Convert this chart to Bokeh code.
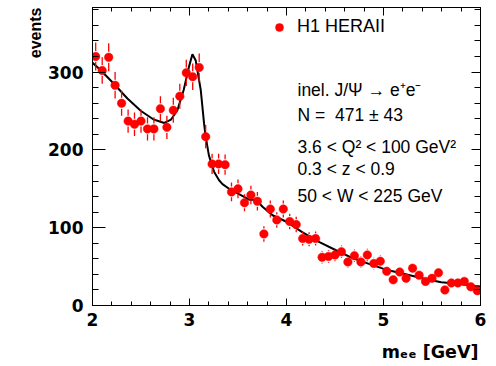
import numpy as np
from bokeh.plotting import figure
from bokeh.models import (LinearAxis, SingleIntervalTicker, Label, Legend, LegendItem,
                          Range1d, ColumnDataSource, CustomJSTickFormatter, Title)
from bokeh.embed import file_html
from bokeh.resources import INLINE

# ---- data ----
bin_x = [2.033, 2.100, 2.167, 2.233, 2.300, 2.367, 2.433, 2.500, 2.567, 2.633,
         2.700, 2.767, 2.833, 2.900, 2.967, 3.033, 3.100, 3.167, 3.233, 3.300,
         3.367, 3.433, 3.500, 3.567, 3.633, 3.700, 3.767, 3.833, 3.900, 3.967,
         4.033, 4.100, 4.167, 4.233, 4.300, 4.367, 4.433, 4.500, 4.567, 4.633,
         4.700, 4.767, 4.833, 4.900, 4.967, 5.033, 5.100, 5.167, 5.233, 5.300,
         5.367, 5.433, 5.500, 5.567, 5.633, 5.700, 5.767, 5.833, 5.900, 5.967]
counts = [320, 302, 319, 283, 260, 237, 233, 237, 227, 227,
          253, 229, 251, 269, 299, 294, 306, 217, 182, 182,
          181, 146, 150, 132, 142, 134, 92, 124, 110, 124,
          108, 104, 86, 85, 86, 62, 63, 65, 69, 56,
          64, 56, 65, 54, 57, 44, 33, 43, 35, 48,
          39, 31, 35, 42, 20, 29, 29, 31, 24, 19]
errors = [18, 17, 18, 17, 16, 15, 15, 15, 15, 15,
          16, 15, 16, 16, 17, 17, 18, 15, 13, 13,
          13, 12, 12, 11, 12, 12, 10, 11, 10, 11,
          10, 10, 9, 9, 9, 8, 8, 8, 8, 7.5,
          8, 7.5, 8, 7.5, 7.5, 6.5, 6, 6.5, 6, 7,
          6, 5.5, 6, 6.5, 4.5, 5.5, 5.5, 5.5, 5, 4.5]

fit_x = [2.00, 2.08, 2.15, 2.22, 2.36, 2.50, 2.63, 2.74, 2.81, 2.875,
         2.94, 2.995, 3.03, 3.064, 3.116, 3.15, 3.167, 3.20, 3.253, 3.305,
         3.34, 3.408, 3.511, 3.615, 3.684, 3.753, 3.856, 3.994, 4.166, 4.34,
         4.51, 4.68, 4.85, 5.04, 5.25, 5.42, 5.595, 5.77, 5.94, 6.00]
fit_y = [312, 303, 294, 285, 266, 250, 239, 234.6, 239, 251,
         277, 307, 323, 315, 277, 234, 217, 193, 172, 161,
         156, 150, 143, 136, 136, 127, 116, 108, 94, 81.5,
         71, 61, 53.5, 45.5, 39.5, 34.4, 30, 28, 25, 24.5]

x_ticks_interval = 1
y_ticks_interval = 100

x_title = "m\u2091\u2091 [GeV]"
y_title = "events"
legend_label = "H1 HERAII"
info_lines = ["inel. J/\u03a8 \u2192 e\u207ae\u207b",
              "N = \u00a0471 \u00b1 43",
              "3.6 < Q\u00b2 < 100 GeV\u00b2",
              "0.3 < z < 0.9",
              "50 < W < 225 GeV"]

# ---- figure ----
p = figure(width=496, height=366, x_range=Range1d(2, 6), y_range=Range1d(0, 383),
           output_backend="svg", toolbar_location=None,
           min_border_left=92, min_border_right=16, min_border_top=7, min_border_bottom=61)
p.xgrid.visible = False
p.ygrid.visible = False
p.outline_line_color = "black"
p.outline_line_width = 1
p.background_fill_color = "white"
p.border_fill_color = "white"

FONT = "Liberation Sans"
BFONT = "DejaVu Sans"

def style_axis(ax, tin, mtin, labels=True):
    ax.major_tick_in = tin
    ax.major_tick_out = 0
    ax.minor_tick_in = mtin
    ax.minor_tick_out = 0
    ax.axis_line_color = "black"
    ax.major_tick_line_color = "black"
    ax.minor_tick_line_color = "black"
    if labels:
        ax.major_label_text_font = BFONT
        ax.major_label_text_font_style = "bold"
        ax.major_label_text_font_size = "17px"
        ax.major_label_text_color = "black"
    else:
        ax.formatter = CustomJSTickFormatter(code="return ''")
        ax.major_label_text_font_size = "0px"
        ax.major_label_standoff = 0

xa = p.xaxis[0]
xa.ticker = SingleIntervalTicker(interval=x_ticks_interval, num_minor_ticks=5)
style_axis(xa, 7, 4)
xa.major_label_standoff = 7

ya = p.yaxis[0]
ya.ticker = SingleIntervalTicker(interval=y_ticks_interval, num_minor_ticks=5)
style_axis(ya, 13, 6)
ya.major_label_standoff = 9

# axis titles as right/top-aligned titles in the side panels
# (an empty first line pushes the x title down to the bottom of its panel)
p.add_layout(Title(text="\n" + x_title, align="right", offset=2, standoff=0,
                   text_line_height=0.58,
                   text_font=BFONT, text_font_style="bold", text_font_size="17.5px",
                   text_color="black"), "below")
p.add_layout(Title(text=y_title, align="right", offset=0, standoff=4,
                   text_font=FONT, text_font_style="bold", text_font_size="16px",
                   text_color="black"), "left")

top = LinearAxis(ticker=SingleIntervalTicker(interval=x_ticks_interval, num_minor_ticks=5))
style_axis(top, 8, 4, labels=False)
p.add_layout(top, "above")
right = LinearAxis(ticker=SingleIntervalTicker(interval=y_ticks_interval, num_minor_ticks=5))
style_axis(right, 9, 6, labels=False)
p.add_layout(right, "right")

# ---- data marks ----
y = np.array(counts, dtype=float)
e = np.array(errors, dtype=float)
gap = 7.0
src = ColumnDataSource(dict(x=bin_x, y=y,
                            up0=y + gap, up1=y + np.maximum(e, gap),
                            dn0=y - gap, dn1=y - np.maximum(e, gap)))

p.line(fit_x, fit_y, line_color="black", line_width=2)
p.segment(x0="x", y0="up0", x1="x", y1="up1", source=src, line_color="#ff0000", line_width=1.3)
p.segment(x0="x", y0="dn0", x1="x", y1="dn1", source=src, line_color="#ff0000", line_width=1.3)
pts = p.scatter(x="x", y="y", source=src, size=8.5, marker="circle",
                fill_color="#ff0000", line_color="#ff0000", line_width=0.5)

legend = Legend(items=[LegendItem(label=legend_label, renderers=[pts])],
                location=(177, 268), orientation="vertical",
                padding=0, margin=0, spacing=0, glyph_width=20, glyph_height=20,
                label_height=20, label_standoff=8,
                label_text_font=FONT, label_text_font_size="18px", label_text_color="black",
                border_line_alpha=0, background_fill_alpha=0)
p.add_layout(legend)

base_y = [216, 191, 159, 137, 110]
for txt, by in zip(info_lines, base_y):
    p.add_layout(Label(x=205, y=by, x_units="screen", y_units="screen", text=txt,
                       text_font=FONT, text_font_size="17.5px", text_color="black",
                       text_baseline="alphabetic", text_align="left"))

open("out.html", "w").write(file_html(p, INLINE))
